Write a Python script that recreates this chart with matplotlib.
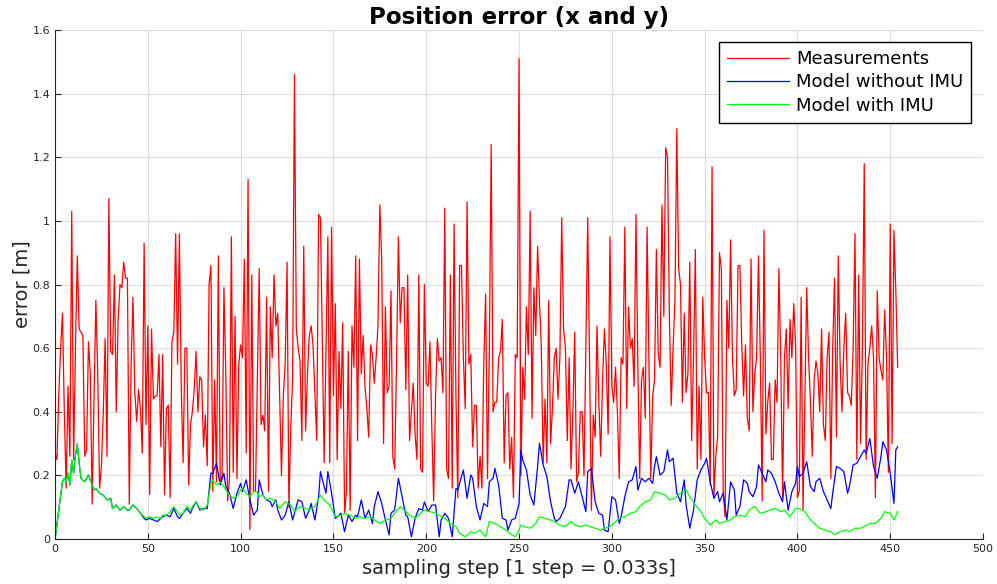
import matplotlib
matplotlib.use("Agg")
import matplotlib.pyplot as plt
import numpy as np

# measurement error, one value per sampling step (0..454)
meas_err = [
    0.27, 0.25, 0.45, 0.60, 0.71, 0.40, 0.16, 0.48, 0.26, 1.03,
    0.25, 0.60, 0.89, 0.66, 0.65, 0.64, 0.26, 0.28, 0.62, 0.52,
    0.11, 0.44, 0.75, 0.52, 0.16, 0.23, 0.40, 0.63, 0.26, 1.07,
    0.59, 0.58, 0.83, 0.40, 0.69, 0.80, 0.79, 0.87, 0.82, 0.82,
    0.11, 0.55, 0.76, 0.46, 0.37, 0.47, 0.41, 0.27, 0.93, 0.36,
    0.67, 0.14, 0.66, 0.44, 0.45, 0.45, 0.58, 0.29, 0.58, 0.14,
    0.41, 0.42, 0.13, 0.62, 0.65, 0.96, 0.55, 0.96, 0.48, 0.24,
    0.60, 0.60, 0.17, 0.36, 0.40, 0.47, 0.59, 0.40, 0.51, 0.50,
    0.29, 0.39, 0.23, 0.80, 0.86, 0.15, 0.50, 0.18, 0.89, 0.18,
    0.20, 0.79, 0.52, 0.12, 0.19, 0.95, 0.21, 0.70, 0.19, 0.55,
    0.61, 0.57, 0.88, 0.27, 1.13, 0.03, 0.83, 0.15, 0.15, 0.50,
    0.85, 0.36, 0.39, 0.34, 0.76, 0.15, 0.73, 0.57, 0.83, 0.67,
    0.71, 0.45, 0.20, 0.45, 0.55, 0.87, 0.10, 0.35, 0.50, 1.46,
    0.66, 0.60, 0.56, 0.31, 0.92, 0.34, 0.52, 0.64, 0.67, 0.61,
    0.46, 0.31, 1.02, 1.01, 0.62, 0.24, 0.60, 0.95, 0.24, 0.98,
    0.45, 0.74, 0.25, 0.59, 0.41, 0.68, 0.08, 0.15, 0.59, 0.09,
    0.67, 0.54, 0.89, 0.31, 0.88, 0.52, 0.64, 0.48, 0.41, 0.32,
    0.61, 0.58, 0.49, 0.57, 0.67, 1.05, 0.88, 0.30, 0.73, 0.46,
    0.48, 0.78, 0.26, 0.22, 0.55, 0.95, 0.68, 0.79, 0.79, 0.47,
    0.83, 0.31, 0.40, 0.49, 0.33, 0.25, 0.83, 0.22, 0.21, 0.80,
    0.49, 0.48, 0.62, 0.35, 0.12, 0.45, 0.63, 0.56, 0.57, 0.46,
    1.04, 0.22, 0.19, 0.83, 0.16, 0.99, 0.45, 0.13, 0.86, 0.86,
    0.57, 0.41, 1.06, 0.55, 0.58, 0.29, 0.42, 0.42, 0.16, 0.26,
    0.16, 0.55, 0.77, 0.19, 0.60, 1.24, 0.40, 0.43, 0.43, 0.57,
    0.59, 0.69, 0.24, 0.45, 0.46, 0.22, 0.32, 0.13, 0.58, 0.57,
    1.51, 0.20, 0.54, 0.44, 0.73, 0.58, 1.03, 0.38, 0.79, 0.64,
    0.92, 0.75, 0.60, 0.24, 0.44, 0.24, 0.75, 0.30, 0.41, 0.57,
    0.60, 0.44, 0.57, 1.01, 0.66, 0.60, 0.31, 0.57, 0.22, 0.40,
    0.65, 0.18, 0.21, 0.40, 0.40, 0.20, 0.60, 1.01, 0.55, 0.09,
    0.39, 0.32, 0.67, 0.43, 0.26, 0.50, 0.66, 0.55, 0.33, 0.95,
    0.48, 0.43, 0.54, 0.40, 0.19, 0.57, 0.55, 0.98, 0.41, 0.73,
    0.60, 0.63, 0.48, 1.02, 0.55, 0.19, 0.50, 0.54, 0.38, 0.98,
    0.55, 0.19, 0.45, 0.50, 0.91, 0.58, 0.54, 1.05, 0.70, 1.23,
    1.20, 0.70, 0.42, 0.60, 0.75, 1.29, 0.85, 0.80, 0.43, 0.71,
    0.46, 0.52, 0.87, 0.31, 0.57, 0.91, 0.22, 0.48, 0.25, 0.76,
    0.57, 0.46, 0.46, 0.17, 1.17, 0.13, 0.26, 0.32, 0.90, 0.85,
    0.15, 0.07, 0.75, 0.60, 0.94, 0.57, 0.45, 0.47, 0.86, 0.86,
    0.61, 0.45, 0.61, 0.38, 0.34, 0.88, 0.40, 0.52, 0.57, 0.89,
    0.57, 0.12, 0.97, 0.33, 0.43, 0.49, 0.25, 0.25, 0.50, 0.43,
    0.85, 0.57, 0.13, 0.57, 0.66, 0.41, 0.69, 0.57, 0.74, 0.61,
    0.13, 0.15, 0.76, 0.09, 0.45, 0.79, 0.57, 0.43, 0.26, 0.50,
    0.56, 0.52, 0.40, 0.66, 0.36, 0.31, 0.57, 0.65, 0.19, 0.60,
    0.82, 0.32, 0.89, 0.55, 0.40, 0.60, 0.71, 0.46, 0.45, 0.42,
    0.60, 0.96, 0.25, 0.83, 0.30, 0.60, 1.18, 0.25, 0.55, 0.60,
    0.67, 0.57, 0.13, 0.78, 0.57, 0.53, 0.50, 0.72, 0.57, 0.21,
    0.99, 0.30, 0.97, 0.78, 0.54,
]

# model without IMU, read at these sampling steps
noimu_steps = [
    0, 4, 5, 6, 7, 8, 9, 10, 11, 12, 13, 14, 16, 18, 19, 21, 22, 24, 26, 28,
    30, 31, 33, 35, 37, 39, 40, 42, 44, 46, 48, 49, 51, 53, 55, 57, 58, 60, 62, 64,
    66, 67, 69, 71, 73, 74, 76, 78, 80, 82, 84, 85, 87, 89, 91, 92, 94, 96, 98, 100,
    101, 103, 105, 107, 109, 110, 112, 114, 116, 117, 119, 120, 122, 124, 126, 128, 129, 131, 133, 135,
    137, 138, 140, 142, 143, 145, 146, 147, 149, 151, 153, 154, 156, 158, 160, 162, 163, 165, 167, 169,
    171, 172, 174, 176, 178, 180, 181, 183, 185, 187, 189, 190, 192, 194, 196, 198, 199, 201, 203, 205,
    207, 208, 210, 212, 214, 216, 217, 219, 220, 222, 224, 225, 227, 229, 231, 233, 234, 236, 237, 239,
    241, 243, 244, 246, 248, 250, 251, 252, 254, 256, 258, 260, 261, 263, 265, 267, 269, 270, 272, 275,
    277, 278, 280, 282, 284, 286, 287, 289, 291, 293, 295, 296, 298, 300, 302, 304, 305, 307, 309, 311,
    313, 314, 316, 318, 320, 322, 323, 324, 326, 328, 330, 331, 333, 335, 337, 339, 340, 342, 344, 346,
    348, 350, 351, 353, 355, 357, 358, 360, 362, 364, 366, 367, 369, 371, 373, 374, 376, 378, 379, 381,
    383, 384, 386, 388, 390, 392, 393, 395, 397, 399, 400, 401, 403, 405, 407, 409, 410, 412, 414, 416,
    418, 419, 421, 423, 425, 427, 428, 430, 432, 434, 436, 437, 439, 441, 443, 445, 446, 448, 450, 452,
    453, 454,
]
noimu_err = [
    0.000, 0.180, 0.191, 0.180, 0.207, 0.170, 0.248, 0.207, 0.264, 0.299, 0.238, 0.191, 0.180, 0.201, 0.186, 0.154, 0.159, 0.144, 0.138, 0.123,
    0.128, 0.096, 0.107, 0.091, 0.102, 0.091, 0.091, 0.107, 0.096, 0.081, 0.065, 0.060, 0.065, 0.060, 0.055, 0.065, 0.070, 0.075, 0.070, 0.096,
    0.070, 0.065, 0.081, 0.096, 0.081, 0.096, 0.117, 0.091, 0.096, 0.096, 0.207, 0.207, 0.238, 0.170, 0.207, 0.165, 0.144, 0.096, 0.144, 0.175,
    0.149, 0.186, 0.123, 0.075, 0.091, 0.186, 0.138, 0.123, 0.117, 0.102, 0.123, 0.091, 0.060, 0.075, 0.117, 0.060, 0.081, 0.123, 0.117, 0.065,
    0.091, 0.112, 0.060, 0.133, 0.212, 0.165, 0.144, 0.212, 0.144, 0.065, 0.075, 0.081, 0.023, 0.075, 0.055, 0.075, 0.070, 0.123, 0.065, 0.091,
    0.049, 0.102, 0.149, 0.112, 0.060, 0.013, 0.081, 0.091, 0.191, 0.133, 0.075, 0.070, 0.007, 0.065, 0.096, 0.091, 0.117, 0.086, 0.107, 0.107,
    0.007, 0.060, 0.081, 0.065, 0.007, 0.159, 0.154, 0.196, 0.217, 0.128, 0.201, 0.191, 0.102, 0.060, 0.112, 0.102, 0.180, 0.191, 0.222, 0.170,
    0.065, 0.060, 0.028, 0.060, 0.065, 0.112, 0.280, 0.248, 0.217, 0.138, 0.107, 0.228, 0.301, 0.233, 0.196, 0.117, 0.065, 0.055, 0.065, 0.102,
    0.186, 0.186, 0.144, 0.180, 0.133, 0.086, 0.212, 0.222, 0.117, 0.081, 0.075, 0.028, 0.023, 0.133, 0.123, 0.049, 0.070, 0.133, 0.180, 0.186,
    0.228, 0.154, 0.191, 0.180, 0.191, 0.175, 0.228, 0.259, 0.201, 0.212, 0.280, 0.243, 0.254, 0.144, 0.117, 0.186, 0.107, 0.034, 0.091, 0.186,
    0.217, 0.238, 0.254, 0.180, 0.128, 0.149, 0.117, 0.144, 0.060, 0.180, 0.154, 0.075, 0.102, 0.186, 0.175, 0.149, 0.133, 0.165, 0.233, 0.207,
    0.180, 0.217, 0.207, 0.180, 0.144, 0.117, 0.180, 0.091, 0.149, 0.175, 0.228, 0.196, 0.207, 0.243, 0.165, 0.149, 0.180, 0.191, 0.149, 0.123,
    0.096, 0.144, 0.228, 0.222, 0.212, 0.144, 0.165, 0.233, 0.238, 0.259, 0.280, 0.269, 0.316, 0.228, 0.191, 0.259, 0.306, 0.280, 0.207, 0.112,
    0.280, 0.290,
]

# model with IMU, read at these sampling steps
imu_steps = [
    0, 4, 5, 6, 7, 8, 9, 10, 11, 12, 13, 14, 16, 18, 19, 21, 22, 24, 26, 28,
    30, 31, 33, 35, 37, 39, 40, 42, 44, 46, 48, 49, 51, 53, 55, 57, 58, 60, 62, 64,
    66, 67, 69, 71, 73, 74, 76, 78, 80, 82, 84, 85, 87, 89, 91, 92, 94, 96, 98, 100,
    101, 103, 105, 107, 109, 110, 112, 114, 116, 119, 121, 124, 127, 129, 132, 135, 137, 140, 143, 145,
    148, 151, 154, 156, 159, 162, 164, 167, 170, 172, 175, 178, 181, 183, 186, 189, 191, 194, 197, 199,
    202, 205, 207, 210, 213, 216, 218, 221, 224, 226, 229, 232, 234, 237, 240, 243, 245, 248, 250, 251,
    253, 256, 259, 261, 264, 267, 269, 272, 275, 278, 280, 283, 286, 288, 291, 294, 296, 299, 302, 304,
    307, 310, 313, 315, 318, 321, 323, 326, 329, 331, 334, 337, 340, 342, 345, 348, 350, 353, 356, 358,
    361, 364, 366, 369, 372, 374, 377, 380, 383, 385, 388, 391, 393, 396, 399, 401, 404, 407, 410, 412,
    415, 418, 420, 423, 426, 428, 431, 434, 436, 439, 442, 445, 447, 450, 452, 454,
]
imu_err = [
    0.000, 0.180, 0.191, 0.180, 0.207, 0.170, 0.248, 0.207, 0.264, 0.299, 0.238, 0.191, 0.180, 0.201, 0.186, 0.154, 0.159, 0.144, 0.138, 0.123,
    0.128, 0.096, 0.107, 0.091, 0.102, 0.091, 0.091, 0.107, 0.096, 0.081, 0.070, 0.065, 0.070, 0.065, 0.070, 0.065, 0.075, 0.075, 0.086, 0.102,
    0.086, 0.075, 0.081, 0.102, 0.091, 0.102, 0.117, 0.096, 0.091, 0.107, 0.175, 0.186, 0.170, 0.180, 0.165, 0.154, 0.138, 0.128, 0.133, 0.154,
    0.159, 0.144, 0.133, 0.149, 0.149, 0.133, 0.138, 0.123, 0.128, 0.117, 0.096, 0.117, 0.107, 0.086, 0.102, 0.096, 0.091, 0.102, 0.138, 0.123,
    0.107, 0.070, 0.075, 0.081, 0.075, 0.065, 0.070, 0.065, 0.070, 0.060, 0.049, 0.060, 0.065, 0.081, 0.102, 0.086, 0.075, 0.065, 0.081, 0.091,
    0.086, 0.081, 0.075, 0.065, 0.049, 0.039, 0.018, 0.007, 0.023, 0.018, 0.028, 0.007, 0.055, 0.049, 0.039, 0.028, 0.018, 0.007, 0.028, 0.044,
    0.039, 0.034, 0.049, 0.070, 0.065, 0.060, 0.055, 0.044, 0.039, 0.055, 0.044, 0.039, 0.044, 0.039, 0.034, 0.028, 0.034, 0.039, 0.055, 0.065,
    0.070, 0.081, 0.086, 0.102, 0.117, 0.123, 0.149, 0.144, 0.138, 0.123, 0.128, 0.144, 0.154, 0.133, 0.107, 0.086, 0.065, 0.044, 0.060, 0.049,
    0.055, 0.060, 0.070, 0.075, 0.070, 0.091, 0.102, 0.081, 0.086, 0.091, 0.096, 0.086, 0.091, 0.070, 0.096, 0.096, 0.086, 0.060, 0.044, 0.034,
    0.028, 0.023, 0.013, 0.023, 0.028, 0.023, 0.034, 0.034, 0.039, 0.049, 0.049, 0.065, 0.086, 0.081, 0.060, 0.086,
]

x_ticks = [0, 50, 100, 150, 200, 250, 300, 350, 400, 450, 500]
y_ticks = [0, 0.2, 0.4, 0.6, 0.8, 1.0, 1.2, 1.4, 1.6]
y_labels = ["0", "0.2", "0.4", "0.6", "0.8", "1", "1.2", "1.4", "1.6"]

fig = plt.figure(figsize=(9.97, 5.84), dpi=100)
ax = fig.add_axes([0.0552, 0.077, 0.9308, 0.8716])

ax.plot(np.arange(len(meas_err)), meas_err, color="#ff0000", lw=0.9, label="Measurements")
ax.plot(noimu_steps, noimu_err, color="#0000ff", lw=0.9, label="Model without IMU")
ax.plot(imu_steps, imu_err, color="#00ff00", lw=0.9, label="Model with IMU")

ax.set_xlim(0, 500)
ax.set_ylim(0, 1.6)
ax.set_xticks(x_ticks)
ax.set_yticks(y_ticks)
ax.set_yticklabels(y_labels)
ax.tick_params(direction="in", length=4, labelsize=8, colors="#262626")
ax.grid(True, color="#dcdcdc", lw=0.8)
ax.set_axisbelow(True)
for side in ("top", "right"):
    ax.spines[side].set_visible(False)
for side in ("left", "bottom"):
    ax.spines[side].set_color("#262626")

ax.set_title("Position error (x and y)", fontsize=16.5, fontweight="bold", pad=4)
ax.set_xlabel("sampling step [1 step = 0.033s]", fontsize=14, color="#262626", labelpad=4)
ax.set_ylabel("error [m]", fontsize=14, color="#262626", labelpad=1)

leg = ax.legend(loc="upper right", bbox_to_anchor=(1.0, 1.0), borderaxespad=0.65,
                fontsize=13, fancybox=False, edgecolor="black", framealpha=1,
                handlelength=3.4, borderpad=0.45, labelspacing=0.3, handletextpad=0.4)
leg.get_frame().set_linewidth(1.0)

fig.savefig("out.png", dpi=100)
